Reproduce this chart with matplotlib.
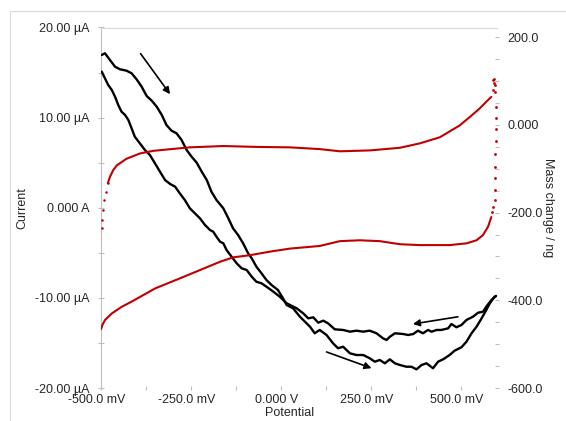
import matplotlib
matplotlib.use("Agg")
import matplotlib.pyplot as plt
import matplotlib.transforms as mtransforms
from matplotlib.patches import Rectangle
from matplotlib.ticker import FixedLocator, FixedFormatter

plt.rcParams['font.family'] = ['Liberation Sans', 'DejaVu Sans']
plt.rcParams['font.size'] = 9

# Cyclic voltammogram: forward (anodic) scan, potential in mV, current in µA
fwd_potential = [-498, -489, -475, -461, -447, -429, -415, -401, -387, -373,
                 -359, -345, -331, -318, -304, -290, -276, -262, -248, -234,
                 -220, -206, -193, -179, -160, -146, -133, -119, -105, -91,
                 -81, -68, -54, -40, -26, -8, 6, 16, 34, 53,
                 81, 94, 108, 127, 145, 159, 173, 192, 210, 229,
                 247, 261, 275, 289, 303, 317, 331, 349, 363, 377,
                 391, 405, 423, 437, 451, 469, 483, 502, 516, 530,
                 544, 558, 571, 581, 594, 598]
fwd_current = [16.95, 17.14, 16.39, 15.65, 15.36, 15.21, 14.92, 14.25, 13.43, 12.40,
               11.88, 11.21, 10.29, 9.18, 8.55, 8.26, 7.52, 6.41, 5.66, 5.00,
               4.00, 3.08, 1.78, 0.86, -0.06, -1.17, -2.28, -3.02, -3.94, -5.05,
               -5.61, -6.54, -7.27, -8.02, -8.57, -9.13, -10.05, -10.79, -11.16, -12.09,
               -13.20, -13.93, -13.56, -14.12, -15.04, -15.59, -15.42, -16.15, -16.34, -16.34,
               -16.70, -17.08, -16.89, -17.26, -16.82, -17.26, -17.45, -17.64, -17.64, -17.93,
               -17.45, -17.26, -17.81, -17.08, -16.82, -16.34, -15.86, -15.48, -14.86, -13.93,
               -13.20, -12.27, -11.35, -10.60, -9.87, -9.79]

# Reverse (cathodic) scan
rev_potential = [598, 585, 571, 562, 548, 534, 516, 502, 488, 474,
                 465, 446, 433, 419, 409, 395, 381, 368, 354, 340,
                 317, 303, 294, 284, 266, 247, 229, 210, 192, 173,
                 150, 131, 118, 104, 90, 76, 62, 44, 16, -3,
                 -21, -40, -54, -68, -81, -95, -109, -123, -137, -151,
                 -160, -169, -179, -188, -197, -211, -225, -239, -253, -267,
                 -281, -294, -308, -322, -336, -350, -364, -378, -392, -406,
                 -415, -424, -433, -443, -452, -461, -470, -480, -489, -498]
rev_current = [-9.79, -10.24, -10.98, -11.53, -11.65, -12.09, -12.45, -13.01, -13.26, -12.90,
               -13.38, -13.56, -13.56, -13.75, -13.56, -13.93, -13.64, -14.01, -14.12, -14.01,
               -13.93, -14.31, -14.67, -14.49, -13.93, -13.64, -13.75, -13.64, -13.75, -13.56,
               -13.49, -12.82, -12.53, -12.75, -12.16, -12.27, -11.71, -11.16, -10.60, -9.87,
               -9.31, -8.76, -8.38, -8.21, -7.65, -6.91, -6.72, -6.16, -5.43, -4.69,
               -3.94, -3.77, -3.21, -2.66, -2.47, -1.91, -1.17, -0.62, -0.06, 0.86,
               1.60, 2.34, 2.64, 3.08, 4.00, 4.93, 5.85, 6.41, 7.15, 7.88,
               8.82, 9.74, 10.29, 10.66, 11.40, 12.32, 13.07, 13.62, 14.36, 15.10]

# Quartz-crystal mass change (ng): anodic branch
mass_up_potential = [-498, -496, -494, -491, -487, -481, -475, -466, -456, -429,
                     -392, -355, -318, -253, -160, -68, 25, 108, 164, 247,
                     331, 386, 442, 497, 525, 553, 571, 585]
mass_up = [-234, -217, -194, -172, -153, -133, -118, -103, -92, -77,
           -65, -59, -56, -51, -48, -50, -51, -55, -60, -58,
           -52, -42, -28, -1, 18, 38, 53, 64]

# Fast mass drop at the vertex potential
mass_jump_potential = [590, 592, 590, 592, 594, 596, 597, 599, 599, 597,
                       596, 596, 596, 594, 594, 590, 587]
mass_jump = [79, 95, 102, 106, 91, 75, 41, 17, -10, -37,
             -67, -96, -122, -149, -172, -187, -198]

# Cathodic branch
mass_down_potential = [585, 576, 562, 544, 516, 469, 386, 331, 275, 219,
                       164, 108, 25, -31, -86, -133, -169, -225, -281, -350,
                       -378, -415, -443, -470, -489, -496, -500]
mass_down = [-210, -232, -251, -263, -270, -274, -274, -272, -265, -263,
             -265, -276, -282, -289, -297, -302, -312, -331, -350, -373,
             -386, -403, -415, -430, -445, -456, -466]

x_ticks = [-500, -250, 0, 250, 500]
x_labels = ['-500.0 mV', '-250.0 mV', '0.000 V', '250.0 mV', '500.0 mV']
y_ticks = [-20, -10, 0, 10, 20]
y_labels = ['-20.00 µA', '-10.00 µA', '0.000 A', '10.00 µA', '20.00 µA']
y2_ticks = [-600, -400, -200, 0, 200]
y2_labels = ['-600.0', '-400.0', '-200.0', '0.000', '200.0']

W, H = 566, 421
fig = plt.figure(figsize=(W / 100, H / 100), dpi=100)
fig.patch.set_facecolor('white')

# chart-area frame
fig.patches.append(Rectangle((9.5 / W, -0.05), 1.0, 1 - 11 / H + 0.05,
                             transform=fig.transFigure, fill=False,
                             edgecolor='#D9D9D9', linewidth=0.8))

left, right, bottom, top = 101 / W, 496.7 / W, 1 - 388 / H, 1 - 27.5 / H
ax = fig.add_axes([left, bottom, right - left, top - bottom])
ax2 = ax.twinx()

txt = '#262626'
grey = '#BFBFBF'

line_kw = dict(solid_joinstyle='round', solid_capstyle='round')
ax.plot(fwd_potential, fwd_current, color='black', lw=1.7, zorder=3, **line_kw)
ax.plot(rev_potential, rev_current, color='black', lw=1.7, zorder=3, **line_kw)

red = '#C00000'
ax2.plot(mass_up_potential[5:], mass_up[5:], color=red, lw=1.5, zorder=2, **line_kw)
ax2.plot(mass_up_potential[:6], mass_up[:6], ls='none', marker='o', ms=1.8,
         color=red, mec='none')
ax2.plot(mass_jump_potential, mass_jump, ls='none', marker='o', ms=2.0,
         color=red, mec='none')
ax2.plot(mass_down_potential, mass_down, color=red, lw=1.5, zorder=2, **line_kw)

ax.set_xlim(-500, 600)
ax.set_ylim(-20, 20)
ax2.set_ylim(-600, 222.4)

ax.xaxis.set_major_locator(FixedLocator(x_ticks))
ax.xaxis.set_major_formatter(FixedFormatter(x_labels))
ax.xaxis.set_minor_locator(FixedLocator([-375, -125, 125, 375]))
ax.yaxis.set_major_locator(FixedLocator(y_ticks))
ax.yaxis.set_major_formatter(FixedFormatter(y_labels))
ax.yaxis.set_minor_locator(FixedLocator([-15, -5, 5, 15]))
ax2.yaxis.set_major_locator(FixedLocator(y2_ticks))
ax2.yaxis.set_major_formatter(FixedFormatter(y2_labels))
ax2.yaxis.set_minor_locator(FixedLocator(list(range(-550, 201, 50))))

for a in (ax, ax2):
    for s in a.spines.values():
        s.set_visible(False)
ax.spines['left'].set_visible(True)
ax.spines['left'].set_color(grey)
ax.spines['left'].set_linewidth(0.8)
ax.spines['top'].set_visible(True)
ax.spines['top'].set_color('#D9D9D9')
ax.spines['top'].set_linewidth(0.8)

ax.tick_params(axis='x', which='both', direction='inout', length=3, width=0.8,
               color=grey, labelcolor=txt, labelsize=9, pad=2.5)
ax.tick_params(axis='y', which='both', direction='inout', length=4, width=0.8,
               color=grey, labelcolor=txt, labelsize=9, pad=6)
ax2.tick_params(axis='y', which='both', direction='inout', length=3, width=0.8,
                color=grey, labelcolor=txt, labelsize=9, pad=6)

shift = mtransforms.ScaledTranslation(-4 / 100, 0, fig.dpi_scale_trans)
for lab in ax.get_xticklabels():
    lab.set_transform(lab.get_transform() + shift)

fig.text(22 / W, 1 - 208 / H, 'Current', rotation=90, ha='center', va='center',
         color=txt, fontsize=9)
fig.text(290 / W, 1 - 413 / H, 'Potential', ha='center', va='center',
         color=txt, fontsize=9)
fig.text(548 / W, 1 - 208 / H, 'Mass change / ng', rotation=270, ha='center',
         va='center', color=txt, fontsize=9)

arrow = dict(arrowstyle='-|>', color='black', lw=1.2, mutation_scale=10,
             shrinkA=0, shrinkB=0)
ax.annotate('', xy=(-308, 12.6), xytext=(-390, 17.1), arrowprops=arrow, zorder=4)
ax.annotate('', xy=(367, -12.9), xytext=(492, -12.1), arrowprops=arrow, zorder=4)
ax.annotate('', xy=(252, -17.8), xytext=(127, -16.0), arrowprops=arrow, zorder=4)

fig.savefig('out.png', dpi=100, facecolor='white')
